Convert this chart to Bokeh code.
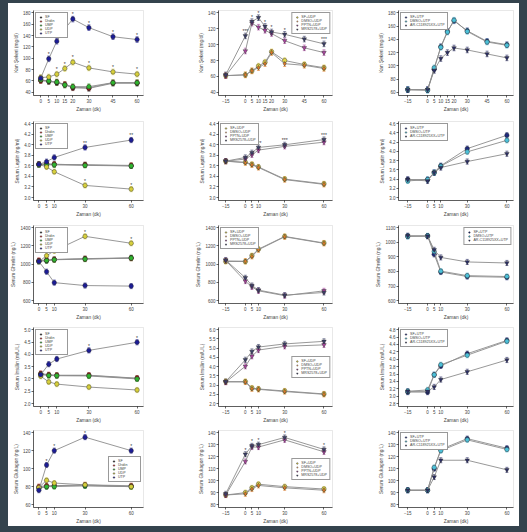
from bokeh.plotting import figure
from bokeh.layouts import column, row
from bokeh.models import (ColumnDataSource, Whisker, TeeHead, Legend, LegendItem,
                          FixedTicker, Range1d, NumeralTickFormatter)
from bokeh.embed import file_html
from bokeh.resources import INLINE
from bokeh.core.properties import value

FONT = "Liberation Sans"

# ---------------- x values (Zaman, dk) ----------------
x_c1_r1 = [0, 5, 10, 15, 20, 30, 45, 60]
x_c1 = [0, 5, 10, 30, 60]
x_c23_r1 = [-15, 0, 5, 10, 15, 20, 30, 45, 60]
x_c23 = [-15, 0, 5, 10, 30, 60]

# ---------------- series names ----------------
names_c1 = ["SF", "Üridin", "UMP", "UDP", "UTP"]
names_c2 = ["SF+UDP", "DMSO+UDP", "PPTN+UDP", "MRS2578+UDP"]
names_c3 = ["SF+UTP", "DMSO+UTP", "AR-C118925XX+UTP"]

# ---------------- Kan Şekeri ----------------
glu_c1_sf = [61, 59, 57, 53, 48, 47, 56, 56]
glu_c1_uri = [61, 60, 58, 54, 49, 48, 57, 57]
glu_c1_ump = [62, 60, 58, 53, 50, 50, 57, 57]
glu_c1_udp = [66, 67, 72, 82, 93, 83, 76, 72]
glu_c1_utp = [65, 99, 130, 152, 169, 154, 138, 133]
glu_c1_ticks = [40, 60, 80, 100, 120, 140, 160, 180]
glu_c1_sig = [["", "", "*", "*", "*", "*", "*", "*"], ["", "*", "*", "*", "*", "*", "*", "*"]]

glu_c2_sf = [61, 62, 67, 73, 78, 91, 80, 75, 71]
glu_c2_dmso = [61, 62, 67, 71, 76, 90, 76, 74, 70]
glu_c2_pptn = [61, 92, 127, 122, 118, 114, 105, 96, 90]
glu_c2_mrs = [62, 111, 129, 134, 123, 116, 113, 107, 101]
glu_c2_ticks = [40, 60, 80, 100, 120, 140]
glu_c2_sig = ["", "***", "*", "*", "*", "*", "*", "*", "***"]

glu_c3_sf = [64, 64, 95, 129, 152, 168, 153, 137, 132]
glu_c3_dmso = [64, 63, 97, 128, 151, 169, 152, 136, 131]
glu_c3_arc = [64, 64, 93, 111, 120, 127, 124, 118, 112]
glu_c3_ticks = [60, 80, 100, 120, 140, 160, 180]

# ---------------- Serum Leptin ----------------
lep_c1_sf = [3.63, 3.63, 3.63, 3.62, 3.60]
lep_c1_uri = [3.63, 3.64, 3.63, 3.62, 3.61]
lep_c1_ump = [3.62, 3.62, 3.62, 3.61, 3.60]
lep_c1_udp = [3.63, 3.58, 3.49, 3.23, 3.16]
lep_c1_utp = [3.63, 3.68, 3.76, 3.95, 4.09]
lep_c1_ticks = [3.0, 3.2, 3.4, 3.6, 3.8, 4.0, 4.2, 4.4]
lep_c1_sig = [["", "", "", "*", "*"], ["", "", "", "**", "**"]]

lep_c2_sf = [3.69, 3.67, 3.63, 3.58, 3.35, 3.26]
lep_c2_dmso = [3.69, 3.66, 3.62, 3.57, 3.34, 3.25]
lep_c2_pptn = [3.69, 3.73, 3.81, 3.90, 3.97, 4.05]
lep_c2_mrs = [3.69, 3.76, 3.85, 3.95, 4.00, 4.10]
lep_c2_ticks = [3.0, 3.2, 3.4, 3.6, 3.8, 4.0, 4.2, 4.4]
lep_c2_sig = ["", "", "", "***", "***", "***"]

lep_c3_sf = [3.39, 3.39, 3.54, 3.69, 4.06, 4.35]
lep_c3_dmso = [3.36, 3.39, 3.54, 3.68, 3.99, 4.24]
lep_c3_arc = [3.39, 3.36, 3.54, 3.65, 3.78, 3.95]
lep_c3_ticks = [3.0, 3.2, 3.4, 3.6, 3.8, 4.0, 4.2, 4.4, 4.6]

# ---------------- Serum Ghrelin ----------------
ghr_c1_sf = [1035, 1038, 1051, 1060, 1070]
ghr_c1_uri = [1040, 1045, 1050, 1058, 1065]
ghr_c1_ump = [1030, 1040, 1048, 1055, 1066]
ghr_c1_udp = [1029, 1092, 1146, 1305, 1229]
ghr_c1_utp = [1030, 917, 797, 765, 759]
ghr_c1_ticks = [600, 800, 1000, 1200, 1400]
ghr_c1_sig = ["", "", "*", "*", "*"]

ghr_c2_sf = [1029, 1029, 1093, 1164, 1304, 1232]
ghr_c2_dmso = [1035, 1032, 1085, 1158, 1300, 1228]
ghr_c2_pptn = [1039, 814, 750, 707, 654, 707]
ghr_c2_mrs = [1045, 850, 765, 715, 660, 689]
ghr_c2_ticks = [600, 800, 1000, 1200, 1400]

ghr_c3_sf = [1042, 1042, 917, 796, 765, 760]
ghr_c3_dmso = [1040, 1044, 937, 802, 771, 765]
ghr_c3_arc = [1045, 1042, 948, 896, 865, 858]
ghr_c3_ticks = [600, 700, 800, 900, 1000, 1100]

# ---------------- Serum İnsülin ----------------
ins_c1_sf = [3.20, 3.15, 3.14, 3.14, 3.02]
ins_c1_uri = [3.22, 3.17, 3.15, 3.15, 3.03]
ins_c1_ump = [3.18, 3.14, 3.13, 3.12, 3.00]
ins_c1_udp = [3.11, 2.88, 2.79, 2.67, 2.55]
ins_c1_utp = [3.17, 3.60, 3.81, 4.16, 4.49]
ins_c1_ticks = [2.0, 2.5, 3.0, 3.5, 4.0, 4.5, 5.0]
ins_c1_sig = ["", "", "*", "*", "*"]

ins_c2_sf = [3.19, 3.19, 2.84, 2.79, 2.68, 2.52]
ins_c2_dmso = [3.17, 3.17, 2.80, 2.77, 2.65, 2.50]
ins_c2_pptn = [3.16, 4.02, 4.56, 4.90, 5.10, 5.18]
ins_c2_mrs = [3.19, 4.37, 4.82, 5.06, 5.23, 5.37]
ins_c2_ticks = [2.0, 2.5, 3.0, 3.5, 4.0, 4.5, 5.0, 5.5, 6.0]

ins_c3_sf = [3.11, 3.11, 3.58, 3.82, 4.15, 4.51]
ins_c3_dmso = [3.13, 3.17, 3.58, 3.85, 4.11, 4.49]
ins_c3_arc = [3.13, 3.13, 3.25, 3.45, 3.66, 3.98]
ins_c3_ticks = [2.8, 3.0, 3.2, 3.4, 3.6, 3.8, 4.0, 4.2, 4.4, 4.6, 4.8]

# ---------------- Serum Glukagon ----------------
gcg_c1_sf = [79, 80, 81, 81, 80]
gcg_c1_uri = [80, 81, 81, 82, 81]
gcg_c1_ump = [78, 80, 80, 81, 80]
gcg_c1_udp = [79, 87, 84, 82, 80]
gcg_c1_utp = [76, 104, 120, 135, 120]
gcg_c1_ticks = [60, 80, 100, 120, 140]
gcg_c1_sig = ["", "*", "*", "*", "*"]

gcg_c2_sf = [88, 90, 94, 97, 95, 93]
gcg_c2_dmso = [88, 89, 93, 96, 94, 92]
gcg_c2_pptn = [88, 116, 128, 128, 134, 124]
gcg_c2_mrs = [89, 122, 129, 130, 136, 126]
gcg_c2_ticks = [80, 90, 100, 110, 120, 130, 140]
gcg_c2_sig = ["", "*", "*", "*", "*", "*"]

gcg_c3_sf = [92, 92, 110, 126, 135, 127]
gcg_c3_dmso = [92, 92, 111, 125, 134, 126]
gcg_c3_arc = [92, 92, 103, 117, 117, 109]
gcg_c3_ticks = [80, 90, 100, 110, 120, 130, 140]

# ---------------- styles ----------------
col_c1 = ["#151515", "#c8201e", "#2fb52f", "#d6cf3c", "#1c1c96"]
mk_c1 = ["circle", "circle", "circle", "circle", "circle"]
col_c2 = ["#e2d54c", "#de7a2a", "#a8449e", "#3b3f68"]
mk_c2 = ["circle", "diamond", "inverted_triangle", "inverted_triangle"]
col_c3 = ["#1e2a7c", "#4cc0d8", "#2c2f66"]
mk_c3 = ["circle", "circle", "inverted_triangle"]

col_w = [(170, 25, 35), (170, 40, 16), (171, 50, 6)]
row_h = [(111, 7, 14), (105, 7, 14), (103, 6, 12), (103, 5, 15), (101, 5, 12)]

ylabels = ["Kan Şekeri (mg/dl)", "Serum Leptin (ng/ml)", "Serum Ghrelin (ng/L)",
           "Serum İnsülin (mIU/L)", "Serum Glukagon (ng/L)"]


def panel(ci, ri, xr, xs, ticks, series, names, colors, markers, legend_loc, fmt, sigs=None):
    w, bl, br = col_w[ci]
    h, bt, bb = row_h[ri]
    span = ticks[-1] - ticks[0]
    p = figure(width=w, height=h, output_backend="svg", toolbar_location=None,
               x_range=Range1d(*xr),
               y_range=Range1d(ticks[0] - 0.04 * span, ticks[-1] + 0.03 * span),
               min_border_left=bl, min_border_right=br,
               min_border_top=bt, min_border_bottom=bb,
               styles={"background-color": "white", "border": "0px",
                       "outline": "none", "box-shadow": "none"})
    p.outline_line_color = "#d8d8d8"
    p.outline_line_width = 0.6
    p.grid.visible = False
    p.background_fill_color = "white"
    p.border_fill_color = "white"
    for ax in (p.xaxis[0], p.yaxis[0]):
        ax.axis_line_width = 0.6
        ax.major_tick_line_width = 0.6
        ax.minor_tick_line_color = None
        ax.major_tick_out = 2
        ax.major_tick_in = 0
        ax.major_label_standoff = 1
        ax.axis_label_standoff = 1
        ax.major_label_text_font = FONT
        ax.major_label_text_font_size = "4.5px"
        ax.axis_label_text_font = FONT
        ax.axis_label_text_font_size = "4.8px"
        ax.axis_label_text_font_style = "normal"
    p.xaxis.ticker = FixedTicker(ticks=xs)
    p.yaxis.ticker = FixedTicker(ticks=ticks)
    p.yaxis.formatter = NumeralTickFormatter(format=fmt)
    p.xaxis.axis_label = "Zaman (dk)"
    p.yaxis.axis_label = ylabels[ri]

    items = []
    tops = []
    for ys, nm, c, m in zip(series, names, colors, markers):
        err = [0.035 * span] * len(ys)
        hi = [a + e for a, e in zip(ys, err)]
        tops.append(hi)
        src = ColumnDataSource(dict(x=xs, y=ys,
                                    lo=[a - e for a, e in zip(ys, err)],
                                    hi=hi))
        p.line("x", "y", source=src, line_color="#8c8c8c", line_width=0.9)
        wk = Whisker(source=src, base="x", lower="lo", upper="hi",
                     line_color=c, line_width=0.6,
                     upper_head=TeeHead(size=3, line_color=c, line_width=0.6),
                     lower_head=TeeHead(size=3, line_color=c, line_width=0.6))
        p.add_layout(wk)
        r = p.scatter("x", "y", source=src, marker=m, size=4.5,
                      fill_color=c, line_color="#222222", line_width=0.4)
        items.append(LegendItem(label=nm, renderers=[r]))
    if sigs:
        for si, labels in sigs:
            ssrc = ColumnDataSource(dict(x=xs, y=tops[si], t=labels))
            p.text("x", "y", text="t", source=ssrc, text_font=value(FONT),
                   text_font_size="5px", text_align="center",
                   text_baseline="bottom", text_color="#333333", y_offset=1)
    leg = Legend(items=items, location=legend_loc)
    leg.label_text_font = FONT
    leg.label_text_font_size = "3.6px"
    leg.label_height = 4
    leg.glyph_height = 4
    leg.glyph_width = 5
    leg.label_standoff = 2
    leg.spacing = 0
    leg.padding = 2
    leg.margin = 2
    leg.border_line_color = "#333333"
    leg.border_line_width = 0.5
    leg.background_fill_alpha = 1
    p.add_layout(leg)
    return p


c1_r1 = (-4.5, 64)
c1_rx = (-3.5, 68)
c2_x = (-20.5, 66.5)
c3_x = (-22, 65)

r1 = row(
    panel(0, 0, c1_r1, x_c1_r1, glu_c1_ticks,
          [glu_c1_sf, glu_c1_uri, glu_c1_ump, glu_c1_udp, glu_c1_utp],
          names_c1, col_c1, mk_c1, "top_left", "0",
          [(3, glu_c1_sig[0]), (4, glu_c1_sig[1])]),
    panel(1, 0, c2_x, x_c23_r1, glu_c2_ticks,
          [glu_c2_sf, glu_c2_dmso, glu_c2_pptn, glu_c2_mrs],
          names_c2, col_c2, mk_c2, "top_right", "0", [(3, glu_c2_sig)]),
    panel(2, 0, c3_x, x_c23_r1, glu_c3_ticks,
          [glu_c3_sf, glu_c3_dmso, glu_c3_arc],
          names_c3, col_c3, mk_c3, "top_left", "0"),
    styles={"background-color": "white"},
)
r2 = row(
    panel(0, 1, c1_rx, x_c1, lep_c1_ticks,
          [lep_c1_sf, lep_c1_uri, lep_c1_ump, lep_c1_udp, lep_c1_utp],
          names_c1, col_c1, mk_c1, "top_left", "0.0",
          [(3, lep_c1_sig[0]), (4, lep_c1_sig[1])]),
    panel(1, 1, c2_x, x_c23, lep_c2_ticks,
          [lep_c2_sf, lep_c2_dmso, lep_c2_pptn, lep_c2_mrs],
          names_c2, col_c2, mk_c2, "top_left", "0.0", [(3, lep_c2_sig)]),
    panel(2, 1, c3_x, x_c23, lep_c3_ticks,
          [lep_c3_sf, lep_c3_dmso, lep_c3_arc],
          names_c3, col_c3, mk_c3, "top_left", "0.0"),
    styles={"background-color": "white"},
)
r3 = row(
    panel(0, 2, c1_rx, x_c1, ghr_c1_ticks,
          [ghr_c1_sf, ghr_c1_uri, ghr_c1_ump, ghr_c1_udp, ghr_c1_utp],
          names_c1, col_c1, mk_c1, "top_left", "0",
          [(3, ghr_c1_sig)]),
    panel(1, 2, c2_x, x_c23, ghr_c2_ticks,
          [ghr_c2_sf, ghr_c2_dmso, ghr_c2_pptn, ghr_c2_mrs],
          names_c2, col_c2, mk_c2, "top_left", "0"),
    panel(2, 2, c3_x, x_c23, ghr_c3_ticks,
          [ghr_c3_sf, ghr_c3_dmso, ghr_c3_arc],
          names_c3, col_c3, mk_c3, "top_right", "0"),
    styles={"background-color": "white"},
)
r4 = row(
    panel(0, 3, c1_r1, x_c1, ins_c1_ticks,
          [ins_c1_sf, ins_c1_uri, ins_c1_ump, ins_c1_udp, ins_c1_utp],
          names_c1, col_c1, mk_c1, "top_left", "0.0",
          [(4, ins_c1_sig)]),
    panel(1, 3, c2_x, x_c23, ins_c2_ticks,
          [ins_c2_sf, ins_c2_dmso, ins_c2_pptn, ins_c2_mrs],
          names_c2, col_c2, mk_c2, "center_right", "0.0"),
    panel(2, 3, c3_x, x_c23, ins_c3_ticks,
          [ins_c3_sf, ins_c3_dmso, ins_c3_arc],
          names_c3, col_c3, mk_c3, "top_left", "0.0"),
    styles={"background-color": "white"},
)
r5 = row(
    panel(0, 4, c1_rx, x_c1, gcg_c1_ticks,
          [gcg_c1_sf, gcg_c1_uri, gcg_c1_ump, gcg_c1_udp, gcg_c1_utp],
          names_c1, col_c1, mk_c1, "center_right", "0",
          [(4, gcg_c1_sig)]),
    panel(1, 4, c2_x, x_c23, gcg_c2_ticks,
          [gcg_c2_sf, gcg_c2_dmso, gcg_c2_pptn, gcg_c2_mrs],
          names_c2, col_c2, mk_c2, "center_right", "0", [(3, gcg_c2_sig)]),
    panel(2, 4, c3_x, x_c23, gcg_c3_ticks,
          [gcg_c3_sf, gcg_c3_dmso, gcg_c3_arc],
          names_c3, col_c3, mk_c3, "top_left", "0"),
    styles={"background-color": "white"},
)

p = column(r1, r2, r3, r4, r5, styles={"background-color": "white"})

template = """{% block preamble %}<style>
html { background-color: #ffffff !important; }
body { background-color: #ffffff !important; margin: 0 !important;
       border-style: solid !important; border-color: #34434d !important;
       border-width: 3px 8px 6px 8px !important; box-sizing: border-box !important;
       height: 100% !important; overflow: hidden; }
</style>{% endblock %}"""
open("out.html", "w").write(file_html(p, INLINE, template=template))
